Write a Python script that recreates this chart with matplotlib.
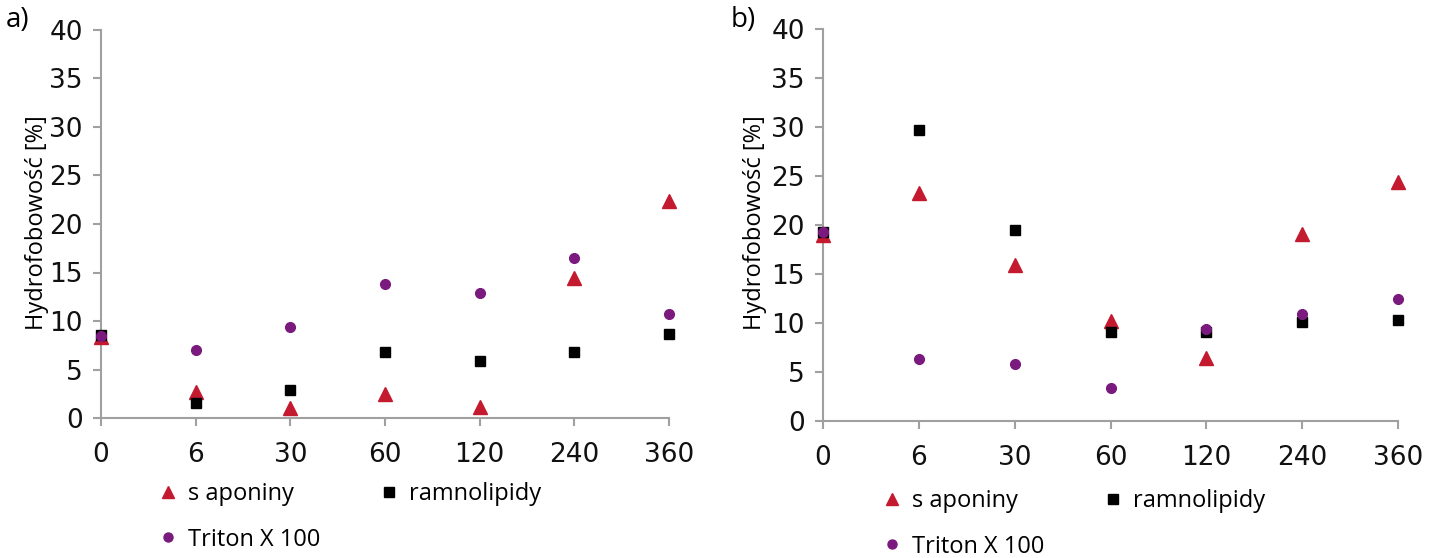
import matplotlib
matplotlib.use("Agg")
import matplotlib.pyplot as plt
from matplotlib.lines import Line2D

categories = ["0", "6", "30", "60", "120", "240", "360"]

# panel a
a_saponiny = [8.3, 2.7, 1.0, 2.5, 1.1, 14.4, 22.4]
a_ramnolipidy = [8.6, 1.5, 2.9, 6.8, 5.9, 6.8, 8.7]
a_triton = [8.5, 7.05, 9.35, 13.8, 12.9, 16.5, 10.7]

# panel b
b_saponiny = [19.0, 23.3, 15.9, 10.2, 6.4, 19.1, 24.4]
b_ramnolipidy = [19.25, 29.7, 19.5, 9.1, 9.1, 10.1, 10.3]
b_triton = [19.3, 6.3, 5.8, 3.4, 9.35, 10.9, 12.5]

series_labels = ["s aponiny", "ramnolipidy", "Triton X 100"]
panel_labels = ["a)", "b)"]
y_label = "Hydrofobowość [%]"
yticks = [0, 5, 10, 15, 20, 25, 30, 35, 40]

RED = "#C41A30"
BLACK = "#000000"
PURPLE = "#7A1A7E"
SPINE = "#A0A0A0"

COND = ["Liberation Sans Narrow", "DejaVu Sans Condensed", "DejaVu Sans"]
REG = ["Open Sans", "DejaVu Sans"]

fig = plt.figure(figsize=(14.35, 5.58), dpi=100)

panels = [
    dict(rect=[101/1435, 1-418/558, 568/1435, 388/558],
         data=(a_saponiny, a_ramnolipidy, a_triton), label=panel_labels[0],
         lab_xy=(6/1435, 1-20/558), ylab_x=37/1435,
         leg_xy=(162/1435, 1-482/558)),
    dict(rect=[823/1435, 1-421/558, 575/1435, 392/558],
         data=(b_saponiny, b_ramnolipidy, b_triton), label=panel_labels[1],
         lab_xy=(731/1435, 1-20/558), ylab_x=755/1435,
         leg_xy=(886/1435, 1-489/558)),
]

for p in panels:
    ax = fig.add_axes(p["rect"])
    x = list(range(len(categories)))
    sap, ram, tri = p["data"]
    ax.plot(x, sap, linestyle="none", marker="^", ms=10, color=RED,
            clip_on=False, zorder=3)
    ax.plot(x, ram, linestyle="none", marker="s", ms=7.5, color=BLACK,
            clip_on=False, zorder=4)
    ax.plot(x, tri, linestyle="none", marker="o", ms=7, color=PURPLE,
            clip_on=False, zorder=5)
    ax.set_xlim(0, len(categories) - 1)
    ax.set_ylim(0, 40)
    ax.set_xticks(x)
    ax.set_xticklabels(categories, family=COND, fontsize=19)
    ax.set_yticks(yticks)
    ax.set_yticklabels([str(t) for t in yticks], family=COND, fontsize=19)
    for s in ["top", "right"]:
        ax.spines[s].set_visible(False)
    for s in ["left", "bottom"]:
        ax.spines[s].set_color(SPINE)
        ax.spines[s].set_linewidth(1.5)
    ax.tick_params(axis="both", direction="out", length=6, width=1.5,
                   color=SPINE, labelcolor="#111111")
    ax.tick_params(axis="x", pad=11)
    ax.tick_params(axis="y", pad=7)
    fig.text(p["ylab_x"], 1 - 223/558, y_label, rotation=90, ha="center",
             va="center", family=REG, fontsize=17)
    fig.text(p["lab_xy"][0], p["lab_xy"][1], p["label"], ha="left", va="center",
             family=REG, fontsize=20)
    hs = [Line2D([], [], linestyle="none", marker="^", ms=9, color=RED),
          Line2D([], [], linestyle="none", marker="o", ms=6.5, color=PURPLE),
          Line2D([], [], linestyle="none", marker="s", ms=7, color=BLACK)]
    labs = [series_labels[0], series_labels[2], series_labels[1]]
    fig.legend(hs, labs, loc="upper left", bbox_to_anchor=p["leg_xy"],
               ncol=2, frameon=False, prop=dict(family=REG, size=17),
               handlelength=0.5, handletextpad=0.6, columnspacing=2.65,
               labelspacing=0.92, borderaxespad=0, borderpad=0)

fig.savefig("out.png", dpi=100)
